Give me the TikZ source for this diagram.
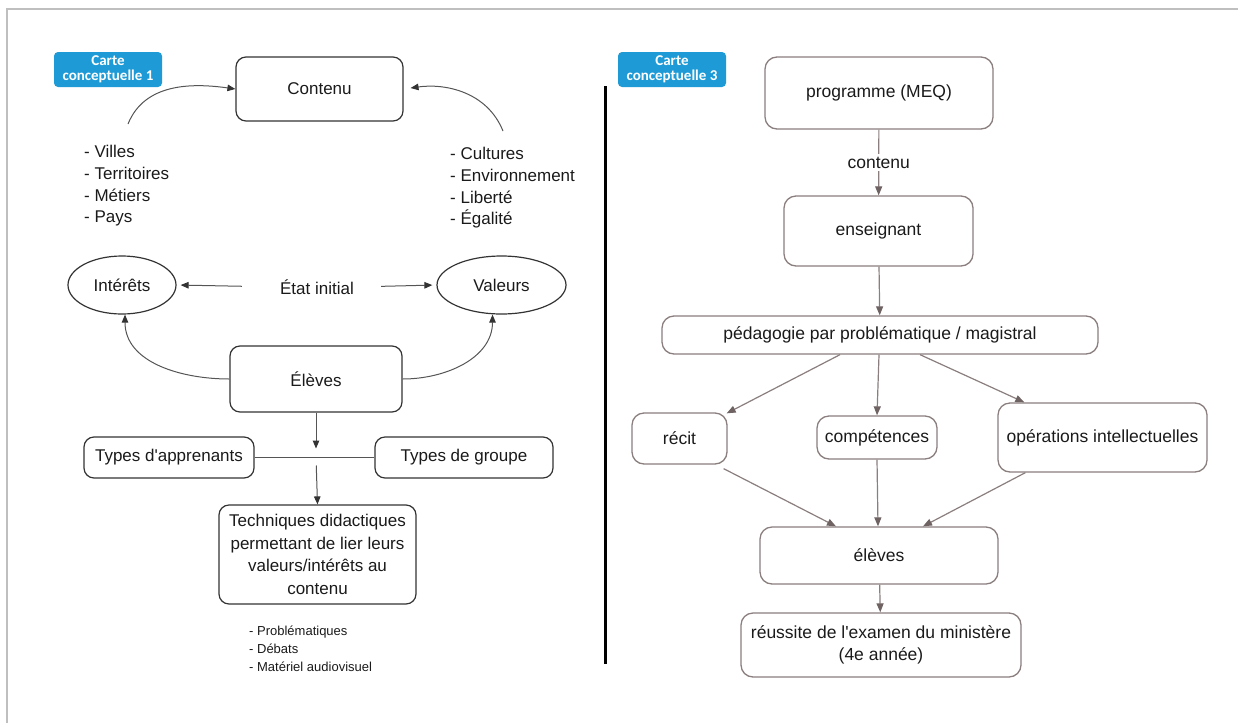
\documentclass[tikz,border=0pt]{standalone}
\usepackage{fontspec}
\setmainfont{Liberation Sans}
\newfontfamily\badgefont{Carlito}
\usetikzlibrary{arrows.meta,shapes.geometric}
\definecolor{lbord}{HTML}{333333}
\definecolor{larrc}{HTML}{555555}
\definecolor{rbord}{HTML}{8A7E7E}
\definecolor{rhead}{HTML}{6E6262}
\definecolor{badgec}{HTML}{1E9BD7}
\definecolor{framec}{HTML}{BFBFBF}
\definecolor{txt}{HTML}{1A1A1A}
\tikzset{
 lbox/.style={draw=lbord, line width=1.2pt, rounded corners=10pt, text=txt, font=\fontsize{17}{22.5}\selectfont, align=center, inner sep=2pt},
 rbox/.style={draw=rbord, line width=1.3pt, rounded corners=12pt, text=txt, font=\fontsize{17.5}{22}\selectfont, align=center, inner sep=2pt},
 lell/.style={ellipse, draw=lbord, line width=1.2pt, text=txt, font=\fontsize{17}{21}\selectfont, inner sep=0pt},
 larr/.style={draw=larrc, line width=1pt, -{Triangle[length=8pt,width=6.5pt,color=lbord]}},
 rarr/.style={draw=rbord, line width=1.2pt, -{Triangle[length=9pt,width=7pt,color=rhead]}},
 badgebox/.style={fill=badgec, rounded corners=4pt, text=white, font=\badgefont\bfseries\fontsize{15}{15.5}\selectfont, align=center, minimum width=108pt, minimum height=35pt, inner sep=0pt},
 plaintext/.style={text=txt, inner sep=0pt, align=left, font=\fontsize{17}{21.7}\selectfont}
}
\begin{document}
\begin{tikzpicture}[x=1pt,y=-1pt]
\useasboundingbox (0,0) rectangle (1238,723);
% frame
\draw[framec, line width=2.5pt] (7,723) -- (7,9) -- (1238,9);
% separator
\draw[black, line width=3pt] (605,86) -- (605,664);

% ---------- Left map ----------
\node[badgebox] (b1) at (108,69.5) {Carte\\conceptuelle 1};
\node[lbox, minimum width=167pt, minimum height=64pt] (cont) at (319.5,89) {Contenu};
\node[plaintext, anchor=west] (villes) at (84,186) {- Villes\\- Territoires\\- Métiers\\- Pays};
\node[plaintext, anchor=west] (cult) at (450,188) {- Cultures\\- Environnement\\- Liberté\\- Égalité};
\coordinate (c1s) at (128,124);
\coordinate (c2s) at (503,131);
\draw[larr] (c1s) to[out=68,in=172] (cont.west);
\draw[larr, shorten >=7pt] (c2s) to[out=112,in=8] (cont.east);

\node[lell, minimum width=108pt, minimum height=58pt] (int) at (122,285) {Intérêts};
\node[lell, minimum width=129pt, minimum height=58pt] (val) at (501.5,285) {Valeurs};
\node[plaintext] (etat) at (317,287) {État initial};
\draw[larr, shorten <=38pt, shorten >=4pt] (etat.west) -- (int.east);
\draw[larr, shorten <=27pt, shorten >=4pt] (etat.east) -- (val.west);

\node[lbox, minimum width=172pt, minimum height=66pt] (elev) at (316,379) {Élèves};
\draw[larr] (elev.west) to[out=180,in=-90] ([xshift=3pt]int.south);
\draw[larr] (elev.east) to[out=0,in=-90] ([xshift=-9pt]val.south);

\node[lbox, minimum width=170pt, minimum height=41pt] (ta) at (169,457.5) {Types d\textquotesingle apprenants};
\node[lbox, minimum width=178pt, minimum height=41pt] (tg) at (464,457.5) {Types de groupe};
\coordinate (jn) at (316,457.5);
\draw[larrc, line width=1pt] (ta.east) -- (tg.west);
\draw[larr, shorten >=9pt] (elev.south) -- (jn);
\node[lbox, minimum width=197pt, minimum height=99pt] (tech) at (317.5,554.5) {Techniques didactiques\\permettant de lier leurs\\valeurs/intérêts au\\contenu};
\draw[larr, shorten <=8pt] (jn) -- (tech.north);
\node[plaintext, anchor=west, font=\fontsize{13}{18}\selectfont] (tlist) at (249,649) {- Problématiques\\- Débats\\- Matériel audiovisuel};

% ---------- Right map ----------
\node[badgebox] (b3) at (672,69.5) {Carte\\conceptuelle 3};
\node[rbox, minimum width=228pt, minimum height=72pt] (prog) at (879,93) {programme (MEQ)};
\node[rbox, minimum width=189pt, minimum height=70pt] (ens) at (878.5,231) {enseignant};
\draw[rarr] (prog) -- node[fill=white, text=txt, inner xsep=1pt, inner ysep=3pt, font=\fontsize{17.5}{20}\selectfont] (lblc) {contenu} (ens);
\node[rbox, minimum width=436pt, minimum height=38pt] (ped) at (880,335) {pédagogie par problématique / magistral};
\draw[rarr] (ens) -- (ped);
\node[rbox, minimum width=95pt, minimum height=51pt] (recit) at (679.5,438.5) {récit};
\node[rbox, minimum width=120pt, minimum height=43pt] (comp) at (877,437.5) {compétences};
\node[rbox, minimum width=209pt, minimum height=69pt] (ops) at (1102.5,437.5) {opérations intellectuelles};
\draw[rarr] ([xshift=-40pt]ped.south) -- ([xshift=-1pt,yshift=-1pt]recit.north east);
\draw[rarr] ([xshift=-1pt]ped.south) -- (comp.north);
\draw[rarr] ([xshift=40pt]ped.south) -- ([xshift=27pt]ops.north west);
\node[rbox, minimum width=238pt, minimum height=57pt] (elv) at (879,555.5) {élèves};
\draw[rarr] ([xshift=-4pt,yshift=-4pt]recit.south east) -- ([xshift=-43pt]elv.north);
\draw[rarr] (comp.south) -- ([xshift=-1pt]elv.north);
\draw[rarr] ([xshift=28pt]ops.south west) -- ([xshift=44pt]elv.north);
\node[rbox, minimum width=280pt, minimum height=64pt] (reu) at (881,645) {réussite de l\textquotesingle examen du ministère\\(4e année)};
\draw[rarr] (elv) -- (reu);
\end{tikzpicture}
\end{document}
